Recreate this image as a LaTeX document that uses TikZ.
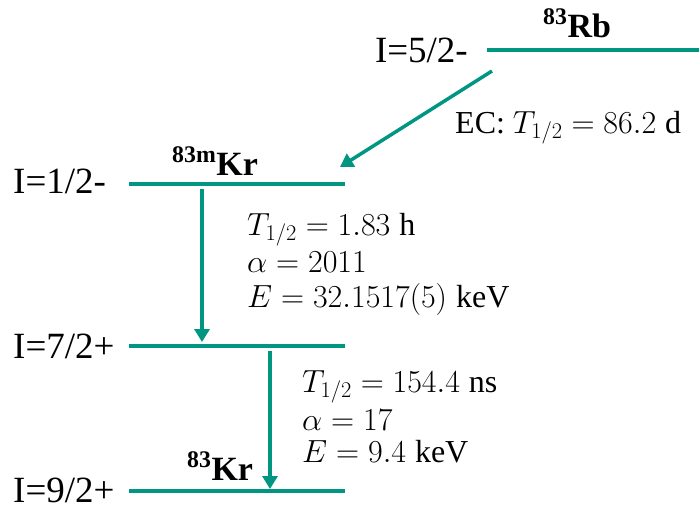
\RequirePackage{fix-cm}
\documentclass[tikz,border=0pt]{standalone}
\usepackage{fontspec}
\setmainfont{Liberation Serif}
\usetikzlibrary{arrows.meta}
\definecolor{levelteal}{RGB}{0,150,130}
\begin{document}
\begin{tikzpicture}[x=1pt,y=-1pt,
  level/.style={draw=levelteal,line width=4pt},
  trans/.style={draw=levelteal,line width=3.5pt,-{Triangle[length=13pt,width=15pt]}},
  spin/.style={inner sep=0pt,font=\fontsize{37}{40}\selectfont},
  nuc/.style={inner sep=0pt,anchor=base west,font=\fontsize{34}{38}\selectfont\bfseries},
  info/.style={inner sep=0pt,anchor=base west,font=\fontsize{32}{35}\selectfont}]
\useasboundingbox (0,0) rectangle (699,509);

% energy levels
\coordinate (rbL) at (487,50);  \coordinate (rbR) at (699,50);
\coordinate (kmL) at (129,184); \coordinate (kmR) at (345,184);
\coordinate (k7L) at (129,346); \coordinate (k7R) at (345,346);
\coordinate (k9L) at (129,491); \coordinate (k9R) at (345,491);
\draw[level] (rbL) -- (rbR);
\draw[level] (kmL) -- (kmR);
\draw[level] (k7L) -- (k7R);
\draw[level] (k9L) -- (k9R);

% transition end points
\coordinate (ecA) at (492,71);  \coordinate (ecB) at (340,167);
\coordinate (g1A) at (202,189); \coordinate (g1B) at (202,342);
\coordinate (g2A) at (270,351); \coordinate (g2B) at (270,489);
\draw[trans] (ecA) -- (ecB);
\draw[trans] (g1A) -- (g1B);
\draw[trans] (g2A) -- (g2B);

% spin-parity labels
\node[spin,anchor=base east] (s52) at (468,62) {I=5/2-};
\node[spin,anchor=base west] (s12) at (13,193) {I=1/2-};
\node[spin,anchor=base west] (s72) at (13,358) {I=7/2+};
\node[spin,anchor=base west] (s92) at (13,502) {I=9/2+};

% nuclide names
\node[nuc] (rb) at (543,37) {\textsuperscript{83}Rb};
\node[nuc] (krm) at (172,175) {\textsuperscript{83m}Kr};
\node[nuc] (kr) at (187,480) {\textsuperscript{83}Kr};

% decay data
\node[info] (ec) at (455,133) {EC: $T_{1/2}=86.2\;\mathrm{d}$};
\node[info] (t1) at (247,235) {$T_{1/2}=1.83\;\mathrm{h}$};
\node[info] (a1) at (247,272) {$\alpha=2011$};
\node[info] (e1) at (247,307) {$E=32.1517(5)\;\mathrm{keV}$};
\node[info] (t2) at (302,392) {$T_{1/2}=154.4\;\mathrm{ns}$};
\node[info] (a2) at (302,430) {$\alpha=17$};
\node[info] (e2) at (302,462) {$E=9.4\;\mathrm{keV}$};
\end{tikzpicture}
\end{document}
